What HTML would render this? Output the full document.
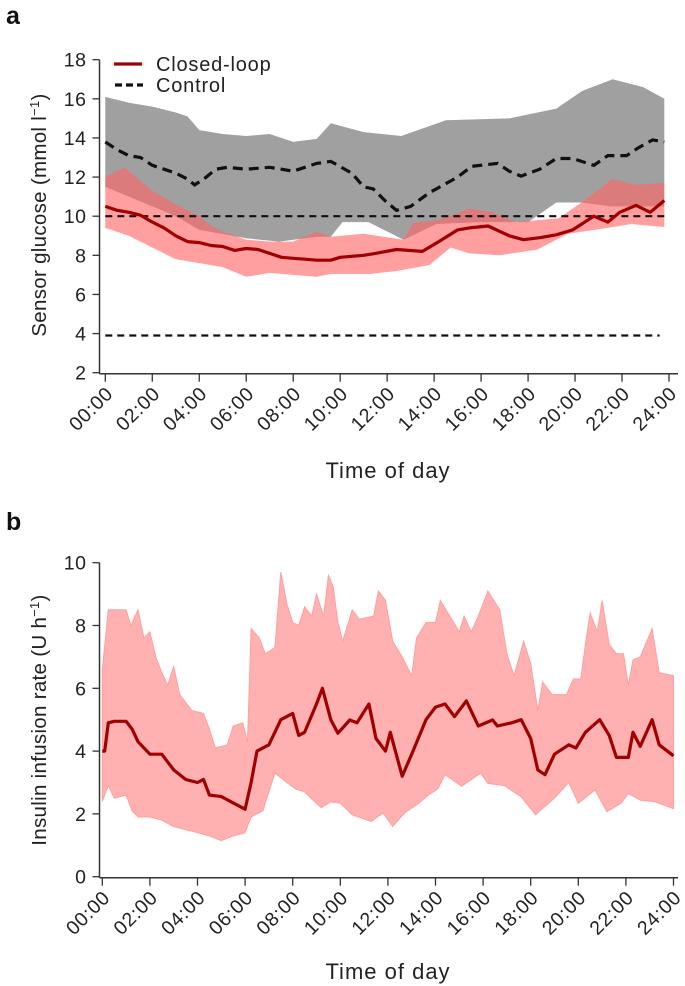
<!DOCTYPE html>
<html><head><meta charset="utf-8"><style>
body{margin:0;background:#fff;}
svg{display:block;font-family:"Liberation Sans",sans-serif;}
</style></head><body>
<svg id="chart" width="685" height="986" viewBox="0 0 685 986" xmlns="http://www.w3.org/2000/svg">
<text x="6" y="24" font-size="25" font-weight="bold" fill="#111">a</text>
<text x="6" y="530" font-size="25" font-weight="bold" fill="#111">b</text>
<g id="pa"></g>
<g id="pb"></g>
</svg>
<script>
// Panel a data
const aTickLabels = ["00:00","02:00","04:00","06:00","08:00","10:00","12:00","14:00","16:00","18:00","20:00","22:00","24:00"];
const aYTicks = [2,4,6,8,10,12,14,16,18];
const clMeanH = [0,0.5,1,1.5,2,2.5,3,3.5,4,4.5,5,5.5,6,6.5,7,7.5,8,8.5,9,9.6,10,11,11.5,12.4,13.5,14.2,15,15.5,16.3,17.2,17.8,18.5,19.2,19.9,20.8,21.4,21.9,22.6,23.2,23.8];
const clMeanV = [10.5,10.3,10.2,10.05,9.7,9.4,9.0,8.7,8.65,8.5,8.45,8.25,8.35,8.3,8.1,7.9,7.85,7.8,7.75,7.75,7.9,8.0,8.1,8.3,8.2,8.7,9.3,9.4,9.5,9.0,8.8,8.9,9.05,9.3,10.0,9.7,10.2,10.55,10.2,10.8];
const clUpH = [0,0.8,1.5,2,3,4,4.5,5,6,7,8,9,9.6,11,12.7,13.1,14.2,15.5,16.5,17.5,19.3,20.4,21.6,22.6,23.8];
const clUpV = [12.0,12.5,11.8,11.3,10.6,10.0,9.5,9.2,8.8,8.7,8.7,9.2,8.95,9.1,8.8,9.65,9.8,10.4,10.2,9.7,9.9,10.8,11.9,11.6,11.7];
const clLoH = [0,1,2,3,4,5,6,7,8,9,9.6,11.3,12.4,13.8,14.7,15.5,16.8,18.4,19.7,21.1,22.4,23.8];
const clLoV = [9.4,9.0,8.4,7.8,7.6,7.4,6.9,7.1,7.0,6.9,7.05,7.05,7.2,7.5,8.4,8.1,8.0,8.3,9.1,9.35,9.6,9.45];
const ctMeanH = [0,0.5,1,1.5,2,2.5,3,3.5,3.8,4.2,4.7,5.2,6,7,8,8.5,9,9.6,10.5,11,11.4,11.9,12.4,13,13.8,14.4,15,15.6,16.7,17.2,17.7,18.5,19.2,19.9,20.8,21.4,22.2,22.7,23.3,23.8];
const ctMeanV = [13.8,13.4,13.1,13.0,12.6,12.4,12.2,11.9,11.6,11.9,12.4,12.5,12.4,12.5,12.3,12.5,12.7,12.8,12.2,11.5,11.4,10.8,10.3,10.5,11.2,11.6,12.0,12.55,12.7,12.3,12.05,12.4,12.95,12.95,12.6,13.1,13.1,13.5,13.9,13.8];
const ctUpH = [0,1,2,3,3.5,4,5,6,7,8,9,9.6,11,12.6,14.5,17.2,19.2,20.3,21.6,22.9,23.8];
const ctUpV = [16.1,15.8,15.6,15.3,15.1,14.4,14.2,14.1,14.2,13.8,13.95,14.75,14.3,14.1,14.9,15.0,15.5,16.4,17.0,16.6,16.0];
const ctLoH = [0,1,2,3,4,6,7.4,9,9.6,10.1,11.2,12.7,14.1,16,18,19.2,20.3,21.5,23.8];
const ctLoV = [11.5,11,10.5,10,9.3,8.87,8.7,8.95,8.95,9.7,9.7,8.8,9.6,9.7,9.7,10.7,10.7,10.5,10.5];
const refLines = [10,3.9];
// Panel b data
const bYTicks = [0,2,4,6,8,10];
const bMeanH = [0,0.1,0.25,0.5,1,1.25,1.5,2,2.5,3,3.5,4,4.25,4.5,5,5.5,6,6.25,6.5,7,7.5,8,8.25,8.5,9,9.25,9.6,9.9,10.4,10.7,11.2,11.5,11.9,12.1,12.6,13.0,13.6,14.0,14.4,14.8,15.3,15.8,16.4,16.6,17.2,17.6,18.0,18.3,18.6,19.0,19.6,19.9,20.3,20.9,21.3,21.6,22.1,22.3,22.6,23.1,23.4,24];
const bMeanV = [4.0,4.0,4.9,4.95,4.95,4.7,4.3,3.9,3.9,3.4,3.1,3.0,3.1,2.6,2.55,2.35,2.15,3.0,4.0,4.2,5.0,5.2,4.5,4.6,5.5,6.0,5.0,4.57,4.99,4.9,5.5,4.4,4.0,4.6,3.2,3.9,5.0,5.4,5.5,5.1,5.6,4.8,4.99,4.8,4.9,5.0,4.4,3.4,3.25,3.9,4.2,4.1,4.6,5.0,4.5,3.8,3.8,4.6,4.15,5.0,4.2,3.85];
const bUpH = [0,0.25,1,1.2,1.5,1.75,2,2.25,2.5,2.75,3,3.25,3.75,4.25,4.5,4.75,5.25,5.5,5.9,6.1,6.25,6.6,6.85,7.25,7.5,7.75,8.0,8.25,8.5,8.8,9.0,9.3,9.5,9.7,9.9,10.1,10.5,10.8,11.4,11.6,11.9,12.2,12.6,13.0,13.2,13.6,14.0,14.2,14.6,15.0,15.2,15.5,15.8,16.2,16.7,17.0,17.3,17.7,18.0,18.3,18.5,18.9,19.5,19.8,20.1,20.3,20.5,20.8,21.0,21.3,21.6,21.9,22.1,22.3,22.6,23.1,23.4,24];
const bUpV = [6.6,8.5,8.5,8.0,8.5,7.6,7.8,7.0,6.5,6.1,6.7,5.8,5.3,5.2,4.7,4.1,4.2,4.8,4.9,4.3,7.9,7.6,7.1,7.3,9.7,8.7,8.1,8.0,8.6,8.3,9.0,8.3,9.6,9.24,8.1,7.5,8.5,8.2,8.3,9.1,8.8,7.5,7.0,6.4,7.6,8.1,8.1,8.8,8.3,7.8,8.3,7.8,8.3,9.1,8.5,7.1,6.4,7.5,6.8,5.3,6.2,5.8,5.8,6.3,6.3,7.4,8.4,7.8,8.8,7.4,7.1,7.1,6.1,6.9,7.0,7.9,6.5,6.4];
const bLoH = [0,0.25,0.5,1.0,1.25,1.5,2,2.5,3,3.5,4,4.5,5,5.5,6,6.25,6.75,7.25,7.75,8.1,8.5,8.9,9.2,9.6,10.0,10.5,11.3,11.8,12.2,12.7,13.3,13.7,14.1,14.4,15.1,15.9,16.2,16.9,17.6,18.2,19.0,19.6,20.0,20.7,21.2,21.8,22.1,22.6,23.2,24];
const bLoV = [2.4,2.9,2.5,2.6,2.1,1.9,1.9,1.8,1.6,1.5,1.4,1.3,1.15,1.3,1.4,1.9,2.1,3.3,3.0,2.8,2.7,2.4,2.2,2.39,2.34,1.97,1.76,2.03,1.6,2.03,2.34,2.6,2.8,3.25,2.88,3.3,2.97,2.9,2.54,1.97,2.5,3.0,2.34,2.76,2.07,2.34,2.65,2.44,2.39,2.17];

const NS="http://www.w3.org/2000/svg";
function mk(parent,tag,attrs){const e=document.createElementNS(NS,tag);for(const k in attrs)e.setAttribute(k,attrs[k]);parent.appendChild(e);return e;}

function drawPanel(g,cfg){
  const xs=h=>cfg.x0+(cfg.x24-cfg.x0)*h/24;
  const ys=v=>cfg.yBot-(cfg.yBot-cfg.yTop)*(v-cfg.vMin)/(cfg.vMax-cfg.vMin);
  const pts=(H,V)=>H.map((h,i)=>xs(h).toFixed(1)+","+ys(V[i]).toFixed(1));
  const band=(uH,uV,lH,lV)=>pts(uH,uV).concat(pts(lH,lV).reverse()).join(" ");
  cfg.draw(g,xs,ys,pts,band);
  let ax=mk(g,'line',{x1:cfg.axX,y1:cfg.yTop,x2:cfg.axX,y2:cfg.yBot+1,stroke:'#333','stroke-width':1.5});
  
  ax=mk(g,'line',{x1:cfg.axX,y1:cfg.yBot+1,x2:678,y2:cfg.yBot+1,stroke:'#333','stroke-width':1.5});
  
  cfg.yTicks.forEach(v=>{
    const y=ys(v);
    const t=mk(g,'line',{x1:cfg.axX-7,y1:y,x2:cfg.axX,y2:y,stroke:'#333','stroke-width':1.3});
    
    const l=mk(g,'text',{x:cfg.axX-13,y:y+7,'text-anchor':'end','font-size':19.5,'letter-spacing':0.5,fill:'#222'});
    l.textContent=v;
    
  });
  aTickLabels.forEach((s,i)=>{
    const x=xs(i*2);
    const t=mk(g,'line',{x1:x,y1:cfg.yBot+1,x2:x,y2:cfg.yBot+9,stroke:'#333','stroke-width':1.3});
    
    const l=mk(g,'text',{x:x+9,y:cfg.yBot+22,'text-anchor':'end','font-size':19.5,'letter-spacing':0.8,fill:'#222',transform:`rotate(-45 ${x+9} ${cfg.yBot+22})`});
    l.textContent=s;
    
  });
  let tt=mk(g,'text',{x:388,y:cfg.xTitleY,'text-anchor':'middle','font-size':22,'letter-spacing':1,fill:'#222'});
  tt.textContent='Time of day';
  
  tt=mk(g,'text',{x:0,y:0,'text-anchor':'middle','font-size':20.5,'letter-spacing':0.3,fill:'#222',transform:`translate(${cfg.yTitleX},${cfg.yTitleY}) rotate(-90)`});
  tt.innerHTML=cfg.yTitle;
  
}

drawPanel(document.getElementById('pa'),{x0:105.3,x24:669,yTop:59.7,yBot:372.7,vMin:2,vMax:18,axX:99.5,yTicks:aYTicks,
 xTitleY:478,yTitleX:46,yTitleY:215,yTitle:'Sensor glucose (mmol l<tspan dy="-7" font-size="13">−1</tspan><tspan dy="7">)</tspan>',
 draw:(g,xs,ys,pts,band)=>{
  let e=mk(g,'polygon',{points:band(ctUpH,ctUpV,ctLoH,ctLoV),fill:'#a0a0a0'});
  
  e=mk(g,'polygon',{points:band(clUpH,clUpV,clLoH,clLoV),fill:'#ff6464','fill-opacity':0.62});
  
  refLines.forEach((v,i)=>{
    const r=mk(g,'line',{x1:xs(0),x2:xs(i==0?24:23.6),y1:ys(v),y2:ys(v),stroke:'#111','stroke-width':2.2,'stroke-dasharray':'7 5'});
    
  });
  e=mk(g,'polyline',{points:pts(ctMeanH,ctMeanV).join(" "),fill:'none',stroke:'#111','stroke-width':3.2,'stroke-dasharray':'10 6'});
  
  e=mk(g,'polyline',{points:pts(clMeanH,clMeanV).join(" "),fill:'none',stroke:'#a00000','stroke-width':3.2,'stroke-linejoin':'round'});
  
  const lg=mk(g,'g',{});
  
  e=mk(lg,'line',{x1:114,x2:142,y1:64,y2:64,stroke:'#a00000','stroke-width':3.2});
  
  e=mk(lg,'text',{x:156,y:71,'font-size':20,'letter-spacing':0.8,fill:'#222'});e.textContent='Closed-loop';
  
  e=mk(lg,'line',{x1:115,x2:143,y1:85,y2:85,stroke:'#111','stroke-width':3.2,'stroke-dasharray':'7 4'});
  
  e=mk(lg,'text',{x:156,y:92,'font-size':20,'letter-spacing':0.8,fill:'#222'});e.textContent='Control';
  
 }});

drawPanel(document.getElementById('pb'),{x0:102.3,x24:673.5,yTop:562.7,yBot:876.7,vMin:0,vMax:10,axX:99.5,yTicks:bYTicks,
 xTitleY:979,yTitleX:46,yTitleY:720,yTitle:'Insulin infusion rate (U h<tspan dy="-7" font-size="13">−1</tspan><tspan dy="7">)</tspan>',
 draw:(g,xs,ys,pts,band)=>{
  let e=mk(g,'polygon',{points:band(bUpH,bUpV,bLoH,bLoV),fill:'#ffb0b0',stroke:'#ffa0a0','stroke-width':1});
  
  e=mk(g,'polyline',{points:pts(bMeanH,bMeanV).join(" "),fill:'none',stroke:'#a00000','stroke-width':3.2,'stroke-linejoin':'round'});
  
 }});
</script>
</body></html>
